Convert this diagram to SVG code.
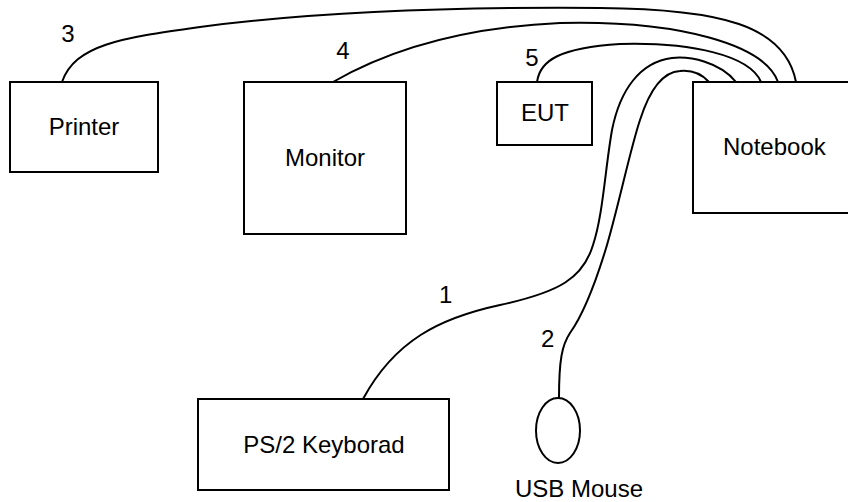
<svg xmlns="http://www.w3.org/2000/svg" width="848" height="502" viewBox="0 0 848 502">
<style>
.box{fill:#fff;stroke:#000;stroke-width:2}
.cable{fill:none;stroke:#000;stroke-width:2}
text{font-family:"Liberation Sans",Arial,sans-serif;font-size:24px;fill:#000}
.c{text-anchor:middle}
</style>
<rect width="848" height="502" fill="#fff"/>
<g id="connectors">
<path class="cable" d="M62,82 C75,45 120,38 200,27 C330,10 480,7 600,8 C720,9 785,25 796,82"/>
<path class="cable" d="M333,82 C380,55 450,28 560,23 C680,20 765,45 778,82"/>
<path class="cable" d="M537,82 C540,60 560,48 620,44 C690,42 750,55 761,82"/>
<path class="cable" d="M736,82 C720,62 690,56 672,58 C640,62 620,90 612,130 C605,170 603,215 593,245 C583,278 560,292 500,305 C440,318 395,340 363,399"/>
<path class="cable" d="M709,82 C700,72 690,70 680,71 C660,72 648,95 640,120 C630,150 620,200 607,245 C598,275 585,312 570,333 C562,345 559,360 559,398"/>
<text x="68" y="42" class="c">3</text>
<text x="343" y="59" class="c">4</text>
<text x="532" y="66" class="c">5</text>
<text x="439" y="303">1</text>
<text x="541" y="347">2</text>
</g>
<g id="printer">
<rect class="box" x="10" y="82" width="148" height="90"/>
<text x="84" y="135" class="c">Printer</text>
</g>
<g id="monitor">
<rect class="box" x="244" y="82" width="162" height="152"/>
<text x="325" y="166" class="c">Monitor</text>
</g>
<g id="eut">
<rect class="box" x="497" y="82" width="95" height="63"/>
<text x="545" y="121" class="c">EUT</text>
</g>
<g id="notebook">
<rect class="box" x="693" y="82" width="170" height="131"/>
<text x="723" y="155">Notebook</text>
</g>
<g id="keyboard">
<rect class="box" x="198" y="399" width="251" height="91"/>
<text x="324" y="453" class="c">PS/2 Keyborad</text>
</g>
<g id="mouse">
<ellipse class="box" cx="558" cy="430.5" rx="22" ry="32.5"/>
<text x="515" y="497">USB Mouse</text>
</g>
</svg>
